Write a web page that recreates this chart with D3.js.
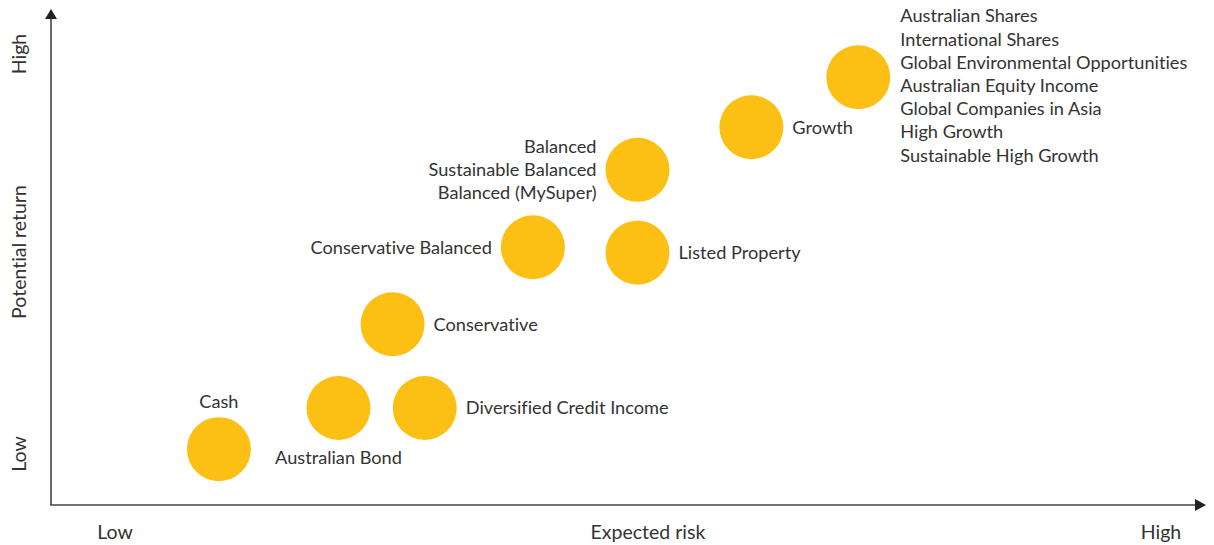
<!DOCTYPE html>
<html lang="en">
<head>
    <meta charset="UTF-8">
    <title>Risk and return</title>
    <script src="https://cdn.jsdelivr.net/npm/d3@7/dist/d3.min.js"></script>
    <style>
        body{
            margin: 0;
            background-color: #ffffff;
        }
        .textos{
            font-family: 'Lato', sans-serif;
            font-size: 18.2px;
            fill: #333333;
            font-variant-ligatures: none;
        }
        .ejes{
            font-family: 'Lato', sans-serif;
            font-size: 19.5px;
            fill: #333333;
            font-variant-ligatures: none;
        }
    </style>
</head>
<body>
    <div id="grafico"></div>

<script>
// option groups, risk (x) and return (y) on a 0-100 scale
var options = [
    ["Cash"],
    ["Australian Bond"],
    ["Diversified Credit Income"],
    ["Conservative"],
    ["Conservative Balanced"],
    ["Listed Property"],
    ["Balanced", "Sustainable Balanced", "Balanced (MySuper)"],
    ["Growth"],
    ["Australian Shares", "International Shares", "Global Environmental Opportunities",
     "Australian Equity Income", "Global Companies in Asia", "High Growth", "Sustainable High Growth"]
];
var risk = [14.6, 25.0, 32.5, 29.7, 41.9, 51.0, 51.0, 60.9, 70.2];
var ret  = [11.4, 19.8, 19.8, 36.9, 52.6, 51.5, 68.4, 77.1, 87.3];

var xLabels = ["Low", "Expected risk", "High"];
var yLabels = ["Low", "Potential return", "High"];

// where each label sits relative to its circle
var lugar = ["above", "below", "right", "right", "left", "right", "left", "right", "rightstack"];

var w = 1214;
var h = 545;
var x0 = 51, x1 = 1201, y0 = 505, y1 = 15;
var r = 32;

var xScale = d3.scaleLinear().domain([0, 100]).range([x0, x1]);
var yScale = d3.scaleLinear().domain([0, 100]).range([y0, y1]);

var grafico = d3.select("#grafico")
    .append("svg")
    .attr("width", w)
    .attr("height", h);

// ejes
grafico.append("line")
    .attr("x1", x0).attr("y1", y0)
    .attr("x2", x0).attr("y2", 18)
    .attr("stroke", "#444").attr("stroke-width", 1.6);
grafico.append("line")
    .attr("x1", x0 - 0.8).attr("y1", y0)
    .attr("x2", 1196).attr("y2", y0)
    .attr("stroke", "#444").attr("stroke-width", 1.6);
grafico.append("path")
    .attr("d", "M" + x0 + ",9 L" + (x0 - 6) + ",19 L" + (x0 + 6) + ",19 Z")
    .attr("fill", "#222");
grafico.append("path")
    .attr("d", "M1206," + y0 + " L1195," + (y0 - 6) + " L1195," + (y0 + 6) + " Z")
    .attr("fill", "#222");

// etiquetas de los ejes
var xPos = [115, 648, 1161];
grafico.selectAll(".xlab")
    .data(xLabels)
    .enter()
    .append("text")
    .classed("ejes", true)
    .attr("x", function(d, i){ return xPos[i]; })
    .attr("y", 539)
    .attr("text-anchor", "middle")
    .text(function(d){ return d; });

var yPos = [454, 252, 54];
grafico.selectAll(".ylab")
    .data(yLabels)
    .enter()
    .append("text")
    .classed("ejes", true)
    .attr("transform", function(d, i){ return "translate(26," + yPos[i] + ") rotate(-90)"; })
    .attr("text-anchor", "middle")
    .text(function(d){ return d; });

var puntos = options.map(function(d, i){
    return {names: d, x: risk[i], y: ret[i], pos: lugar[i]};
});

grafico.selectAll("circle")
    .data(puntos)
    .enter()
    .append("circle")
    .attr("cx", function(d){ return xScale(d.x); })
    .attr("cy", function(d){ return yScale(d.y); })
    .attr("r", r)
    .attr("fill", "#FCC015");

var lh = 23.2;
puntos.forEach(function(d){
    var cx = xScale(d.x), cy = yScale(d.y);
    var tx, ty, anchor = "start";
    var n = d.names.length;
    if (d.pos == "above"){
        tx = cx; ty = cy - r - 16; anchor = "middle";
    } else if (d.pos == "below"){
        tx = cx; ty = cy + 50; anchor = "middle";
    } else if (d.pos == "right"){
        tx = cx + r + 9; ty = cy;
    } else if (d.pos == "left"){
        tx = cx - r - 9; ty = cy - (n - 1) * lh / 2; anchor = "end";
    } else {
        tx = cx + r + 10; ty = 16;
    }
    var t = grafico.append("text")
        .classed("textos", true)
        .attr("text-anchor", anchor);
    d.names.forEach(function(s, k){
        t.append("tspan")
            .attr("x", tx)
            .attr("y", ty + k * lh)
            .attr("dy", "0.35em")
            .text(s);
    });
});
</script>
</body>
</html>
